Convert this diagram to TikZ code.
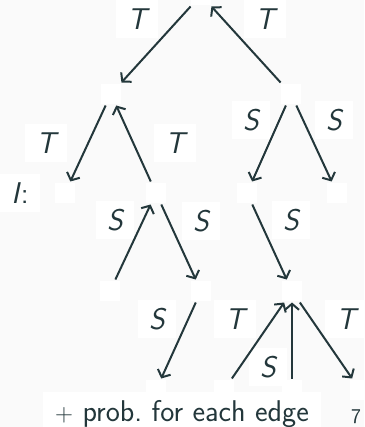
\documentclass[tikz,border=0pt]{standalone}
\usepackage{tikz}
\usetikzlibrary{arrows.meta}
\definecolor{fg}{HTML}{23373B}
\definecolor{bg}{HTML}{FAFAFA}

\begin{document}
\begin{tikzpicture}[x=1pt, y=-1pt,
    vertex/.style={fill=white, minimum size=20pt, inner sep=0pt, outer sep=1.5pt},
    lbl/.style={fill=white, text=fg, font=\sffamily\itshape\fontsize{30}{36}\selectfont,
        minimum height=38pt, inner xsep=11.5pt, inner ysep=0pt},
    edge/.style={draw=fg, line width=2pt, -{Straight Barb[length=6pt,width=14pt]}}]
    \fill[bg] (0,0) rectangle (364,427);
    \useasboundingbox (0,0) rectangle (364,427);

    \node[vertex] (r) at (201,-5) {};
    \node[vertex] (a) at (111,94) {};
    \node[vertex] (b) at (291,94) {};
    \node[vertex] (c) at (65,193) {};
    \node[vertex] (d) at (156,193) {};
    \node[vertex] (g) at (247,193) {};
    \node[vertex] (h) at (337,193) {};
    \node[vertex] (e) at (110,291) {};
    \node[vertex] (f) at (201,291) {};
    \node[vertex] (j) at (292,291) {};
    \node[vertex] (k) at (156,390) {};
    \node[vertex] (l) at (224,390) {};
    \node[vertex] (m) at (292,390) {};
    \node[vertex] (n) at (360,390) {};

    \node[lbl] (ra) at (137,19) {T};
    \node[lbl] (br) at (265,19) {T};
    \node[lbl] (ac) at (46,143) {T};
    \node[lbl] (da) at (175,143) {T};
    \node[lbl] (ed) at (115,220) {S};
    \node[lbl] (df) at (201,221) {S};
    \node[lbl] (bg) at (251,120) {S};
    \node[lbl] (bh) at (334,120) {S};
    \node[lbl] (gj) at (291,220) {S};
    \node[lbl] (fk) at (157,319) {S};
    \node[lbl] (lj) at (235,319) {T};
    \node[lbl] (jn) at (346,319) {T};
    \node[lbl] (mj) at (268,367) {S};
    \node[lbl] (iname) at (20,193) {I\textup{:}};

    \draw[edge] (r) -- (a);
    \draw[edge] (b) -- (r);
    \draw[edge] (a) -- (c);
    \draw[edge] (d) -- (a);
    \draw[edge] (e) -- (d);
    \draw[edge] (d) -- (f);
    \draw[edge] (b) -- (g);
    \draw[edge] (b) -- (h);
    \draw[edge] (g) -- (j);
    \draw[edge] (f) -- (k);
    \draw[edge] (l) -- (j);
    \draw[edge] (m) -- (j);
    \draw[edge] (j) -- (n);

    \node[fill=white, text=fg, font=\sffamily\fontsize{30}{36}\selectfont, anchor=north west,
        inner xsep=12pt, inner ysep=8pt] (note) at (43,392) {$+$ prob.\ for each edge};
    \node[text=fg, font=\sffamily\fontsize{21}{25}\selectfont, anchor=base] (pagenr) at (356,423) {7};
\end{tikzpicture}
\end{document}
